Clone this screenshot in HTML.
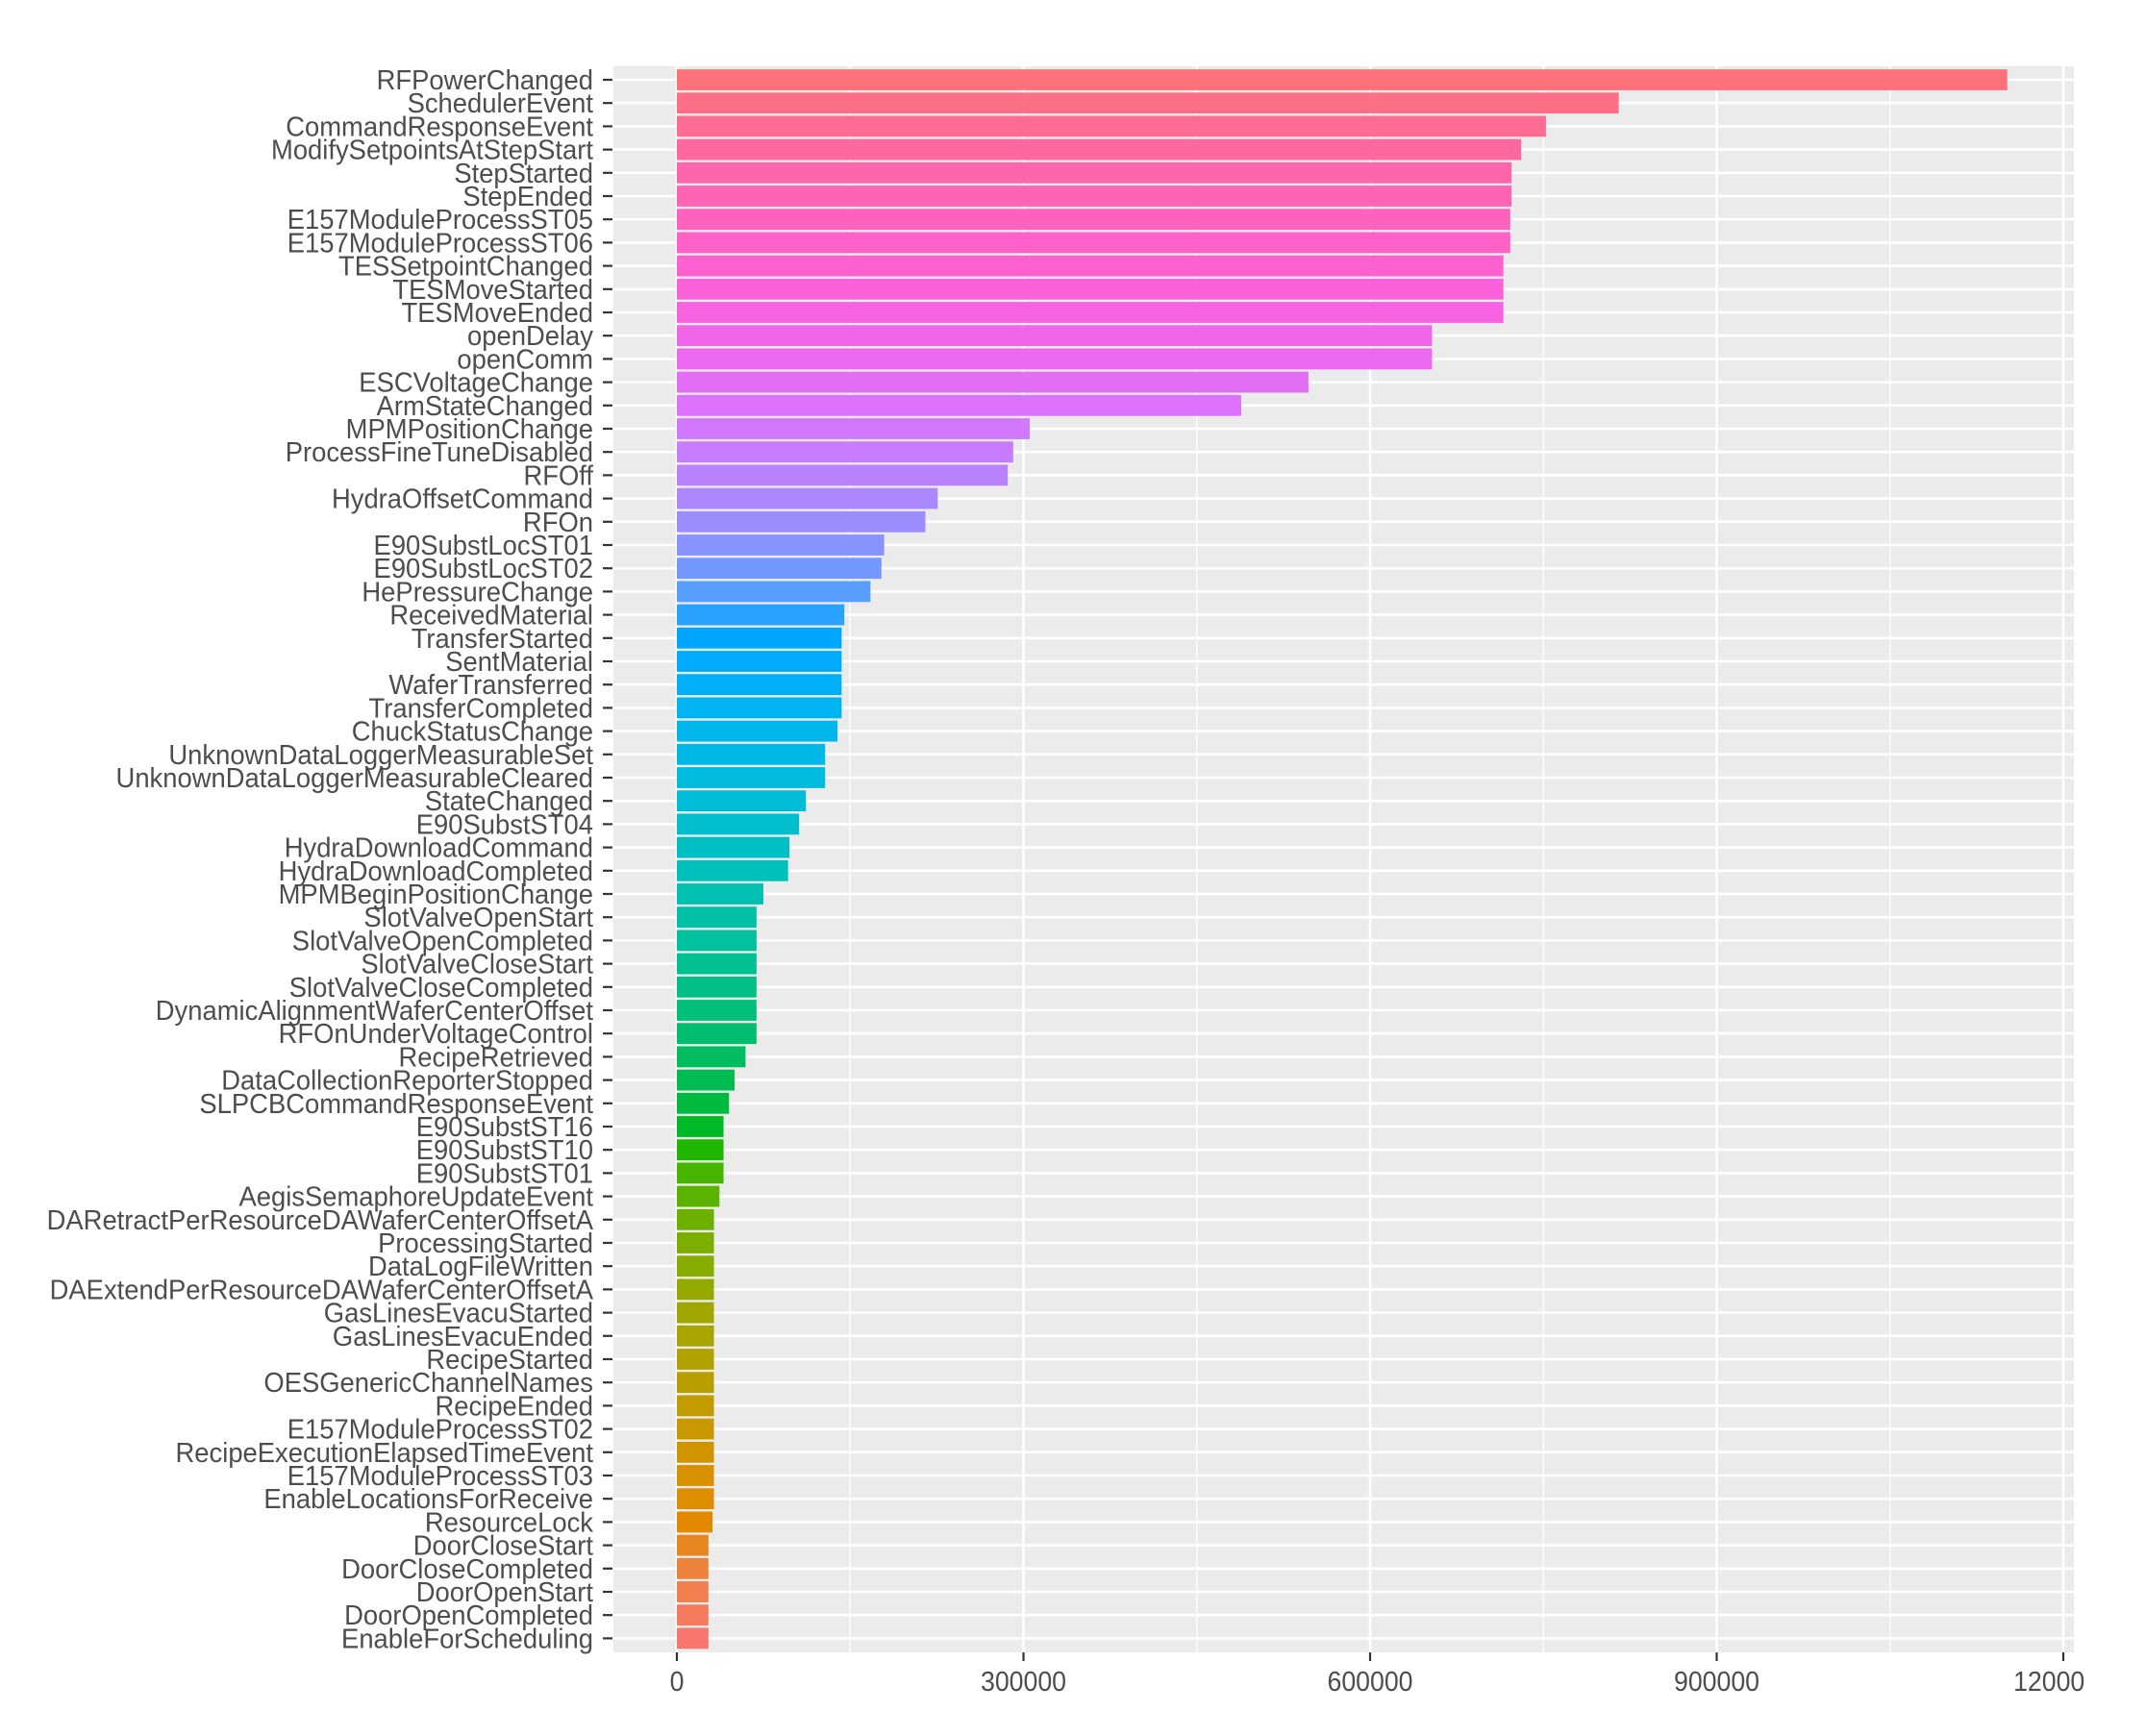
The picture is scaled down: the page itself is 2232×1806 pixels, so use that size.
<!DOCTYPE html>
<html><head><meta charset="utf-8"><style>html,body{margin:0;padding:0;background:#fff}svg{display:block}</style></head>
<body>
<svg id="s" xmlns="http://www.w3.org/2000/svg" width="2232" height="1806" viewBox="0 0 2232 1806"></svg>
<script>
var data=[["RFPowerChanged",1466],["SchedulerEvent",1183],["CommandResponseEvent",1130],["ModifySetpointsAtStepStart",1112],["StepStarted",1105],["StepEnded",1105],["E157ModuleProcessST05",1104],["E157ModuleProcessST06",1104],["TESSetpointChanged",1099],["TESMoveStarted",1099],["TESMoveEnded",1099],["openDelay",1047],["openComm",1047],["ESCVoltageChange",957],["ArmStateChanged",908],["MPMPositionChange",754],["ProcessFineTuneDisabled",742],["RFOff",738],["HydraOffsetCommand",687],["RFOn",678],["E90SubstLocST01",648],["E90SubstLocST02",646],["HePressureChange",638],["ReceivedMaterial",619],["TransferStarted",617],["SentMaterial",617],["WaferTransferred",617],["TransferCompleted",617],["ChuckStatusChange",614],["UnknownDataLoggerMeasurableSet",605],["UnknownDataLoggerMeasurableCleared",605],["StateChanged",591],["E90SubstST04",586],["HydraDownloadCommand",579],["HydraDownloadCompleted",578],["MPMBeginPositionChange",560],["SlotValveOpenStart",555],["SlotValveOpenCompleted",555],["SlotValveCloseStart",555],["SlotValveCloseCompleted",555],["DynamicAlignmentWaferCenterOffset",555],["RFOnUnderVoltageControl",555],["RecipeRetrieved",547],["DataCollectionReporterStopped",539],["SLPCBCommandResponseEvent",535],["E90SubstST16",531],["E90SubstST10",531],["E90SubstST01",531],["AegisSemaphoreUpdateEvent",528],["DARetractPerResourceDAWaferCenterOffsetA",524],["ProcessingStarted",524],["DataLogFileWritten",524],["DAExtendPerResourceDAWaferCenterOffsetA",524],["GasLinesEvacuStarted",524],["GasLinesEvacuEnded",524],["RecipeStarted",524],["OESGenericChannelNames",524],["RecipeEnded",524],["E157ModuleProcessST02",524],["RecipeExecutionElapsedTimeEvent",524],["E157ModuleProcessST03",524],["EnableLocationsForReceive",524],["ResourceLock",523],["DoorCloseStart",520],["DoorCloseCompleted",520],["DoorOpenStart",520],["DoorOpenCompleted",520],["EnableForScheduling",520]];
function hcl(h,c,l){var Xn=95.047,Yn=100,Zn=108.883;var Y=l>8?Math.pow((l+16)/116,3)*Yn:l/903.3*Yn;
var d=Xn+15*Yn+3*Zn,un=4*Xn/d,vn=9*Yn/d;var hr=h*Math.PI/180,u=c*Math.cos(hr),v=c*Math.sin(hr);
var up=u/(13*l)+un,vp=v/(13*l)+vn;var X=Y*9*up/(4*vp),Z=Y*(12-3*up-20*vp)/(4*vp);X/=100;Y/=100;Z/=100;
var r=3.2404542*X-1.5371385*Y-0.4985314*Z,g=-0.9692660*X+1.8760108*Y+0.0415560*Z,b=0.0556434*X-0.2040259*Y+1.0572252*Z;
function gm(x){x=x<=0.0031308?12.92*x:1.055*Math.pow(x,1/2.4)-0.055;x=Math.max(0,Math.min(1,x));return Math.round(x*255);}
return "rgb("+gm(r)+","+gm(g)+","+gm(b)+")";}
var n=data.length,s="";
var L=638,R=2157,T=69,B=1719,x0=704,k=(2146-704)/1200000;
s+='<rect x="'+L+'" y="'+T+'" width="'+(R-L)+'" height="'+(B-T)+'" fill="#EBEBEB"/>';
for(var v=150000;v<1300000;v+=300000){var x=x0+v*k;if(x<R)s+='<line x1="'+x+'" x2="'+x+'" y1="'+T+'" y2="'+B+'" stroke="#fff" stroke-width="1.3"/>';}
var ticks=[0,300000,600000,900000,1200000],tl=["0","300000","600000","900000","1200000"];
for(var i=0;i<5;i++){var x=x0+ticks[i]*k;s+='<line x1="'+x+'" x2="'+x+'" y1="'+T+'" y2="'+B+'" stroke="#fff" stroke-width="2.6"/>';}
var pitch=24.2,c0=83;
for(var i=0;i<n;i++){var cy=c0+i*pitch;s+='<line x1="'+L+'" x2="'+R+'" y1="'+cy+'" y2="'+cy+'" stroke="#fff" stroke-width="2.6"/>';}
for(var i=0;i<n;i++){var cy=c0+i*pitch,h=21.8;var xe=704+(data[i][1]-497)*1.428;
var col=hcl(15+360*(n-1-i)/n,100,65);
s+='<rect x="704" y="'+(cy-h/2)+'" width="'+(xe-704)+'" height="'+h+'" fill="'+col+'"/>';
s+='<line x1="627" x2="637" y1="'+cy+'" y2="'+cy+'" stroke="#333" stroke-width="2.2"/>';
s+='<text transform="translate(617,'+(cy+10)+') scale(0.945,1)" text-anchor="end" font-family="Liberation Sans, sans-serif" font-size="29" fill="#4D4D4D">'+data[i][0]+'</text>';}
for(var i=0;i<5;i++){var x=x0+ticks[i]*k;s+='<line x1="'+x+'" x2="'+x+'" y1="'+B+'" y2="'+(B+9)+'" stroke="#333" stroke-width="2.2"/>';
s+='<text transform="translate('+x+',1759) scale(0.92,1)" text-anchor="middle" font-family="Liberation Sans, sans-serif" font-size="29" fill="#4D4D4D">'+tl[i]+'</text>';}
s+='<rect x="2168" y="0" width="64" height="1806" fill="#fff"/>';
document.getElementById("s").innerHTML=s;
</script>
</body></html>
